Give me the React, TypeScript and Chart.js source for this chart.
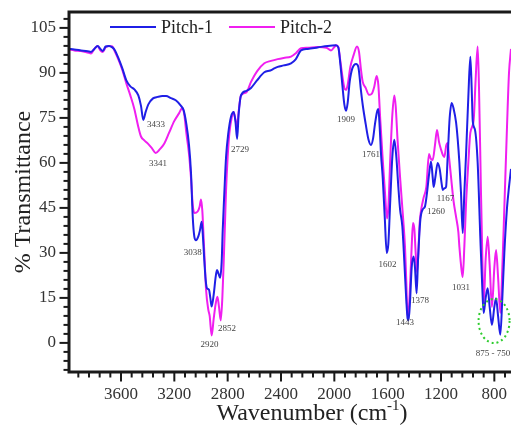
import { useEffect, useRef } from "react";
import { Chart, registerables } from "chart.js";

Chart.register(...registerables);

// ---------------- data ----------------
const seriesNames = ["Pitch-1", "Pitch-2"];

const pitch1Wavenumber = [
  3990, 3950, 3900, 3850, 3825, 3800, 3775, 3755, 3737, 3715, 3690, 3665, 3645, 3620, 3590, 3560, 3530, 3500,
  3470, 3450, 3433, 3415, 3395, 3360, 3325, 3290, 3262, 3225, 3187, 3150, 3130, 3110, 3090, 3075, 3062, 3050,
  3038, 3020, 3008, 2995, 2985, 2977, 2965, 2955, 2940, 2930, 2920, 2905, 2890, 2880, 2868, 2857, 2845, 2837,
  2825, 2812, 2795, 2775, 2755, 2742, 2729, 2718, 2700, 2660, 2625, 2580, 2525, 2480, 2450, 2425, 2380, 2325,
  2290, 2250, 2200, 2125, 2050, 1990, 1970, 1955, 1940, 1925, 1912, 1900, 1885, 1865, 1837, 1820, 1800, 1787,
  1765, 1745, 1725, 1710, 1695, 1680, 1670, 1660, 1650, 1637, 1622, 1607, 1595, 1580, 1565, 1550, 1535, 1520,
  1507, 1490, 1475, 1460, 1450, 1443, 1432, 1420, 1405, 1395, 1383, 1372, 1355, 1337, 1320, 1305, 1290, 1275,
  1262, 1255, 1243, 1225, 1210, 1195, 1187, 1175, 1162, 1150, 1135, 1120, 1105, 1087, 1075, 1062, 1050, 1037,
  1025, 1012, 995, 980, 970, 962, 945, 925, 905, 890, 880, 865, 850, 835, 818, 800, 787, 772, 755, 740, 725,
  705, 690, 675,
];
const pitch1Transmittance = [
  98, 97.8, 97.5, 97.2, 97, 98, 99, 98, 97.3, 98.8, 99, 98.5, 97.5, 95, 91.5, 87.5, 85.5, 84.5,
  82.5, 79, 74.3, 77, 79.5, 81.5, 82, 82.3, 82.3, 81.6, 80.8, 79, 77.5, 73, 66, 56.7, 42, 35.4,
  34.2, 35.5, 37.5, 40.4, 35, 28.8, 21, 18.2, 17.7, 15, 12.1, 16, 22, 24.3, 23, 21.7, 27, 37.7,
  50, 62, 70, 75.4, 77, 74, 68, 76, 82.5, 84, 85, 87.5, 90.2, 90.8, 91.5, 92, 92.5, 93.2,
  94.5, 97.5, 98, 98.5, 99, 99.2, 98.5, 93, 86, 79.5, 77.4, 80, 87, 91.5, 93, 92, 84, 79.3,
  73, 68, 66, 68, 73, 77, 78, 72, 63, 55, 42, 30, 33, 48, 62, 67.7, 62, 52,
  44.5, 38.8, 27, 14, 8, 7.5, 14, 25, 28.8, 25, 16.5, 28, 41, 44.5, 45.5, 50, 56, 60.5,
  55, 52, 55, 60, 58, 53, 51, 51.5, 52, 62, 75, 80, 78, 73.5, 68, 60, 50, 36.6,
  50, 63, 82, 95.4, 85, 74, 71, 60, 35, 18, 10, 15, 18.2, 12, 6, 12, 14.9, 9, 2.7, 15, 30,
  45, 52, 58,
];

const pitch2Wavenumber = [
  3990, 3950, 3900, 3850, 3825, 3800, 3775, 3755, 3737, 3715, 3690, 3665, 3645, 3620, 3590, 3560, 3530, 3500,
  3470, 3450, 3425, 3400, 3370, 3340, 3310, 3275, 3240, 3200, 3165, 3140, 3125, 3110, 3090, 3075, 3062, 3050,
  3025, 3010, 3000, 2990, 2983, 2972, 2962, 2945, 2935, 2920, 2905, 2890, 2877, 2865, 2852, 2840, 2830, 2820,
  2812, 2800, 2787, 2770, 2755, 2742, 2729, 2718, 2700, 2660, 2625, 2580, 2525, 2475, 2425, 2380, 2325, 2290,
  2250, 2200, 2125, 2060, 2025, 2000, 1985, 1970, 1955, 1940, 1925, 1912, 1900, 1880, 1855, 1830, 1815, 1800,
  1787, 1765, 1740, 1720, 1700, 1683, 1670, 1655, 1637, 1620, 1605, 1595, 1580, 1565, 1550, 1540, 1525, 1505,
  1485, 1470, 1460, 1452, 1445, 1435, 1420, 1410, 1400, 1390, 1380, 1372, 1360, 1350, 1330, 1310, 1290, 1278,
  1262, 1245, 1230, 1215, 1200, 1185, 1175, 1160, 1150, 1140, 1125, 1105, 1087, 1070, 1062, 1045, 1037, 1025,
  1012, 995, 980, 955, 940, 925, 915, 900, 893, 880, 865, 850, 835, 818, 800, 787, 772, 755, 740, 725, 705,
  690, 675,
];
const pitch2Transmittance = [
  97.8, 97.5, 97.3, 96.8, 96.5, 98, 99, 97.5, 97, 98.5, 99, 98.8, 97, 94.5, 91, 86.5, 82.5, 78,
  72, 68.8, 67.5, 66.5, 65, 63.3, 64.5, 66.5, 70, 74, 76.5, 78.3, 76, 70, 63, 55, 46, 43.3,
  43.8, 45.5, 47.8, 44, 37.7, 27, 17.7, 11, 9, 2.5, 8, 13, 15.4, 12, 7.5, 15, 26.7, 40,
  51, 62, 70, 75, 77, 74.5, 72, 77, 82.5, 83.5, 87, 90.5, 93.2, 94, 94.6, 95, 95.4, 96.5,
  98.2, 98.4, 98.6, 98.4, 97.5, 98.6, 99.2, 98.5, 94, 89, 85, 84.3, 86, 92, 96, 98.8, 97, 91,
  87, 85, 82.7, 83, 85.5, 89, 86, 74, 61, 50, 41.5, 45, 62, 76, 82.5, 79, 67, 54,
  42, 32, 20, 10, 9, 16, 32, 40, 38, 30, 23.5, 28, 40, 44, 48.5, 52, 63, 61.5,
  61, 66, 71, 67, 64.5, 62.5, 62, 66, 66.6, 62, 55.4, 47, 42, 37, 32, 24, 22, 32,
  46.6, 60, 70, 74.3, 88, 98.8, 85, 50, 35, 13.3, 28, 35.4, 26, 12, 25, 31, 22, 10, 25, 45, 72,
  90, 98,
];

const xTickValues = [3600, 3200, 2800, 2400, 2000, 1600, 1200, 800];
const yTickValues = [0, 15, 30, 45, 60, 75, 90, 105];

const peakLabels = ["3433", "3341", "2729", "3038", "2920", "2852", "1909", "1761", "1602", "1443", "1378", "1260", "1167", "1031", "875 - 750"];
const peakLabelX = [3337, 3322, 2707, 3062, 2937, 2805, 1912, 1725, 1601, 1470, 1357, 1237, 1166, 1050, 810];
const peakLabelY = [72.7, 59.7, 64.3, 30, -0.7, 4.8, 74.3, 62.9, 26, 6.7, 14, 43.7, 48.2, 18.3, -3.7];

const highlightX = 802;
const highlightY = 7.3;

// ---------------- styling ----------------
const SERIF = '"Liberation Serif", "Times New Roman", "DejaVu Serif", serif';
const BLUE = "#1f1fe6";
const MAGENTA = "#f01ff0";
const AXIS = "#1a1a1a";
const TEXT = "#333333";

const toPoints = (xs: number[], ys: number[]) => xs.map((x, i) => ({ x, y: ys[i] }));

const decorPlugin = {
  id: "decor",
  afterDraw(chart: any) {
    const { ctx, chartArea } = chart;
    const { left, right, top, bottom } = chartArea;
    const xs = chart.scales.x;
    const ys = chart.scales.y;
    ctx.save();

    // frame lines
    ctx.strokeStyle = AXIS;
    ctx.lineWidth = 3;
    ctx.beginPath();
    ctx.moveTo(left - 1.5, top);
    ctx.lineTo(right, top);
    ctx.moveTo(left, top - 1.5);
    ctx.lineTo(left, bottom + 1.5);
    ctx.moveTo(left - 1.5, bottom);
    ctx.lineTo(right, bottom);
    ctx.stroke();

    // tick marks
    ctx.lineWidth = 2;
    for (let v = 720; v <= 3990; v += 80) {
      const px = xs.getPixelForValue(v);
      if (px < left - 1 || px > right + 1) continue;
      const len = v % 400 === 0 ? 8 : 4;
      ctx.beginPath();
      ctx.moveTo(px, bottom);
      ctx.lineTo(px, bottom + 1.5 + len);
      ctx.stroke();
    }
    for (let v = -9; v <= 109; v += 3) {
      const py = ys.getPixelForValue(v);
      if (py < top || py > bottom) continue;
      const len = v % 15 === 0 ? 8 : 4;
      ctx.beginPath();
      ctx.moveTo(left - 1.5 - len, py);
      ctx.lineTo(left, py);
      ctx.stroke();
    }

    // tick labels
    ctx.fillStyle = TEXT;
    ctx.font = `17px ${SERIF}`;
    ctx.textAlign = "center";
    ctx.textBaseline = "middle";
    xTickValues.forEach((v) => {
      ctx.fillText(String(v), xs.getPixelForValue(v), bottom + 23);
    });
    ctx.textAlign = "right";
    yTickValues.forEach((v) => {
      ctx.fillText(String(v), left - 13, ys.getPixelForValue(v));
    });

    // peak labels
    ctx.fillStyle = "#444";
    ctx.font = `9px ${SERIF}`;
    ctx.textAlign = "center";
    ctx.textBaseline = "middle";
    peakLabels.forEach((t, i) => {
      ctx.fillText(t, xs.getPixelForValue(peakLabelX[i]), ys.getPixelForValue(peakLabelY[i]));
    });

    // dotted ellipse
    ctx.strokeStyle = "#2ecc2e";
    ctx.lineWidth = 2;
    ctx.setLineDash([2, 3]);
    ctx.beginPath();
    ctx.ellipse(xs.getPixelForValue(highlightX), ys.getPixelForValue(highlightY), 15.5, 22, 0, 0, Math.PI * 2);
    ctx.stroke();
    ctx.setLineDash([]);

    // legend
    const colors = [BLUE, MAGENTA];
    const lx = [left + 41, left + 160];
    ctx.font = `18px ${SERIF}`;
    ctx.textAlign = "left";
    ctx.textBaseline = "alphabetic";
    seriesNames.forEach((n, i) => {
      ctx.strokeStyle = colors[i];
      ctx.lineWidth = 2;
      ctx.beginPath();
      ctx.moveTo(lx[i], top + 15);
      ctx.lineTo(lx[i] + 46, top + 15);
      ctx.stroke();
      ctx.fillStyle = "#222";
      ctx.fillText(n, lx[i] + 51, top + 21);
    });

    // axis titles
    ctx.fillStyle = "#222";
    ctx.font = `24px ${SERIF}`;
    ctx.save();
    ctx.translate(30, (top + bottom) / 2);
    ctx.rotate(-Math.PI / 2);
    ctx.textAlign = "center";
    ctx.fillText("% Transmittance", 0, 0);
    ctx.restore();

    const main = "Wavenumber (cm";
    ctx.font = `24px ${SERIF}`;
    const w1 = ctx.measureText(main).width;
    ctx.font = `15px ${SERIF}`;
    const w2 = ctx.measureText("-1").width;
    ctx.font = `24px ${SERIF}`;
    const w3 = ctx.measureText(")").width;
    const total = w1 + w2 + w3;
    let sx = 312 - total / 2;
    const by = 420;
    ctx.textAlign = "left";
    ctx.fillText(main, sx, by);
    sx += w1;
    ctx.font = `15px ${SERIF}`;
    ctx.fillText("-1", sx, by - 10);
    sx += w2;
    ctx.font = `24px ${SERIF}`;
    ctx.fillText(")", sx, by);

    ctx.restore();
  },
};

export default function App() {
  const canvasRef = useRef<HTMLCanvasElement | null>(null);

  useEffect(() => {
    if (!canvasRef.current) return;
    const chart = new Chart(canvasRef.current, {
      type: "line",
      data: {
        datasets: [
          {
            label: seriesNames[0],
            data: toPoints(pitch1Wavenumber, pitch1Transmittance),
            borderColor: BLUE,
            backgroundColor: BLUE,
            borderWidth: 2,
            pointRadius: 0,
            cubicInterpolationMode: "monotone",
          },
          {
            label: seriesNames[1],
            data: toPoints(pitch2Wavenumber, pitch2Transmittance),
            borderColor: MAGENTA,
            backgroundColor: MAGENTA,
            borderWidth: 2,
            pointRadius: 0,
            cubicInterpolationMode: "monotone",
          },
        ],
      },
      options: {
        animation: false,
        responsive: true,
        maintainAspectRatio: false,
        events: [],
        layout: { padding: { top: 12, left: 0, right: 0, bottom: 0 } },
        plugins: { legend: { display: false }, tooltip: { enabled: false } },
        scales: {
          x: {
            type: "linear",
            reverse: true,
            min: 675,
            max: 3990,
            afterBuildTicks: (s: any) => {
              s.ticks = xTickValues.map((v) => ({ value: v }));
            },
            afterFit: (s: any) => {
              s.height = 63;
              s.paddingLeft = 0;
              s.paddingRight = 0;
            },
            grid: { display: false, drawTicks: false },
            border: { display: false },
            ticks: { display: false },
          },
          y: {
            type: "linear",
            min: -9.7,
            max: 110.3,
            afterBuildTicks: (s: any) => {
              s.ticks = yTickValues.map((v) => ({ value: v }));
            },
            afterFit: (s: any) => {
              s.width = 69;
              s.paddingTop = 0;
              s.paddingBottom = 0;
            },
            grid: { display: false, drawTicks: false },
            border: { display: false },
            ticks: { display: false },
          },
        },
      },
      plugins: [decorPlugin],
    });
    return () => chart.destroy();
  }, []);

  return (
    <div style={{ position: "absolute", left: 0, top: 0, width: 511, height: 435, background: "#fff" }}>
      <canvas ref={canvasRef} />
    </div>
  );
}
